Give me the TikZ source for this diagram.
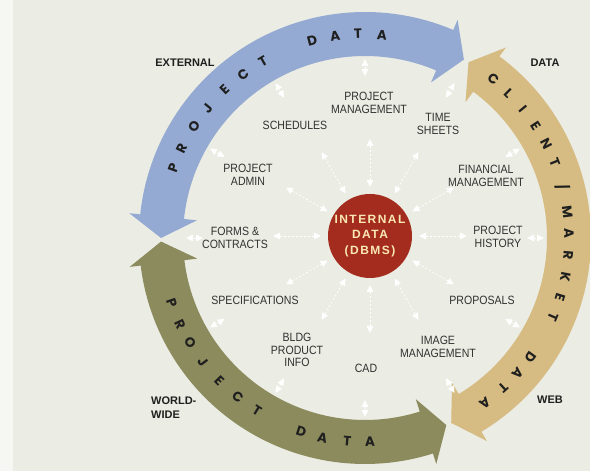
\documentclass[tikz,border=0pt]{standalone}
\usepackage{fontspec}
\setmainfont{Liberation Sans}
\newfontfamily\labfont[FakeStretch=0.88]{Liberation Sans}
\newfontfamily\ringfont{Poppins}
\newfontfamily\dbfont[LetterSpace=12]{Liberation Sans}
\usetikzlibrary{arrows.meta,calc}
\definecolor{bgc}{RGB}{235,236,227}
\definecolor{blueband}{RGB}{148,170,210}
\definecolor{tanband}{RGB}{214,188,130}
\definecolor{oliveband}{RGB}{139,139,94}
\definecolor{dbred}{RGB}{163,44,30}
\definecolor{dbtext}{RGB}{250,232,180}
\definecolor{labgray}{RGB}{50,50,50}
\tikzset{
  lab/.style={font=\labfont\fontsize{12}{12.8}\selectfont, text=labgray, align=center, inner sep=1pt},
  outlab/.style={font=\bfseries\fontsize{11}{14.5}\selectfont, text=black!88, inner sep=1pt},
  ringlet/.style={font=\ringfont\bfseries\fontsize{13.5}{13.5}\selectfont, text=black!88, inner sep=0pt},
  spoke/.style={draw=white, line width=0.8pt, dash pattern=on 2pt off 2pt, >={Triangle[width=6.5pt,length=7pt]}, <->},
}
\begin{document}
\begin{tikzpicture}[x=1pt,y=1pt]
\fill[bgc] (0,0) rectangle (590,471);
\fill[white!55!bgc] (0,0) rectangle (13,471);
\useasboundingbox (0,0) rectangle (590,471);
\coordinate (ring) at (365,233);
\begin{scope}[shift={(365,233)}]
  % blue arc arrow (top)
  \fill[blueband] (180:204) -- (174:237) -- (174:226) arc[start angle=174, end angle=67, radius=226pt]
    -- (67:237) -- (61:204) -- (67:169) -- (67:182) arc[start angle=67, end angle=174, radius=182pt]
    -- (174:169) -- cycle;
  % tan arc arrow (right)
  \fill[tanband] (59.5:204) -- (53.5:237) -- (53.5:226) arc[start angle=53.5, end angle=-59, radius=226pt]
    -- (-59:237) -- (-65:204) -- (-59:169) -- (-59:182) arc[start angle=-59, end angle=53.5, radius=182pt]
    -- (53.5:169) -- cycle;
  % olive arc arrow (bottom)
  \fill[oliveband] (181:204) -- (187:237) -- (187:226) arc[start angle=187, end angle=287.5, radius=226pt]
    -- (287.5:237) -- (293.5:204) -- (287.5:169) -- (287.5:182) arc[start angle=287.5, end angle=187, radius=182pt]
    -- (187:169) -- cycle;
  % letters
  \foreach \l/\a in {P/160,R/154,O/147,J/140.6,E/133.5,C/126.7,T/120,D/105,A/98.4,T/92,A/85.2}
    \node[ringlet, rotate=\a-90] at (\a:204) {\l};
  \foreach \l/\a in {C/51,L/45.3,I/39.3,E/33.3,N/27.4,T/21.6,{/}/14.5,M/7.4,A/1.4,R/-4.8,K/-11,E/-17,T/-22.8,D/-35.8,A/-41.6,T/-47.4,A/-54}
    \node[ringlet, rotate=\a-90] at (\a:204) {\l};
  \foreach \l/\a in {P/198.6,R/205,O/211,J/217.3,E/224.4,C/231.4,T/238,D/251.8,A/258,T/265,A/271.4}
    \node[ringlet, rotate=\a+90] at (\a:204) {\l};
\end{scope}

\node[circle, fill=dbred, minimum size=84pt, inner sep=0pt, text=dbtext, align=center,
      font=\dbfont\bfseries\fontsize{12}{15.5}\selectfont] (db) at (370,235) {INTERNAL\\DATA\\(DBMS)};

\foreach \a/\n in {90/pm,60/ts,30/fm,0/ph,-30/pr,-60/im,-90/cad,-120/bl,-150/sp,180/fc,150/pa,120/sc}{
  \coordinate (\n i1) at ($(db.center)+(\a:49)$);
  \coordinate (\n i2) at ($(db.center)+(\a:97)$);
  \coordinate (\n o1) at ($(ring)+(\a:162)$);
  \coordinate (\n o2) at ($(ring)+(\a:179)$);
  \draw[spoke] (\n i1) -- (\n i2);
  \draw[spoke] (\n o1) -- (\n o2);
}

\node[lab] (pm) at (369,368) {PROJECT\\MANAGEMENT};
\node[lab] (ts) at (438,347) {TIME\\SHEETS};
\node[lab] (fm) at (486,295) {FINANCIAL\\MANAGEMENT};
\node[lab] (ph) at (498,234) {PROJECT\\HISTORY};
\node[lab] (pr) at (482,171) {PROPOSALS};
\node[lab] (im) at (438,124) {IMAGE\\MANAGEMENT};
\node[lab] (cad) at (366,103) {CAD};
\node[lab] (bl) at (297,121) {BLDG\\PRODUCT\\INFO};
\node[lab] (sp) at (255,171) {SPECIFICATIONS};
\node[lab] (fc) at (235,233) {FORMS \&\\CONTRACTS};
\node[lab] (pa) at (248,296) {PROJECT\\ADMIN};
\node[lab] (sc) at (295,346) {SCHEDULES};

\node[outlab] (ext) at (185,408) {EXTERNAL};
\node[outlab] (dat) at (545,408) {DATA};
\node[outlab, align=left, anchor=west] (ww) at (150,63.5) {WORLD-\\WIDE};
\node[outlab] (web) at (550,71) {WEB};
\end{tikzpicture}
\end{document}
